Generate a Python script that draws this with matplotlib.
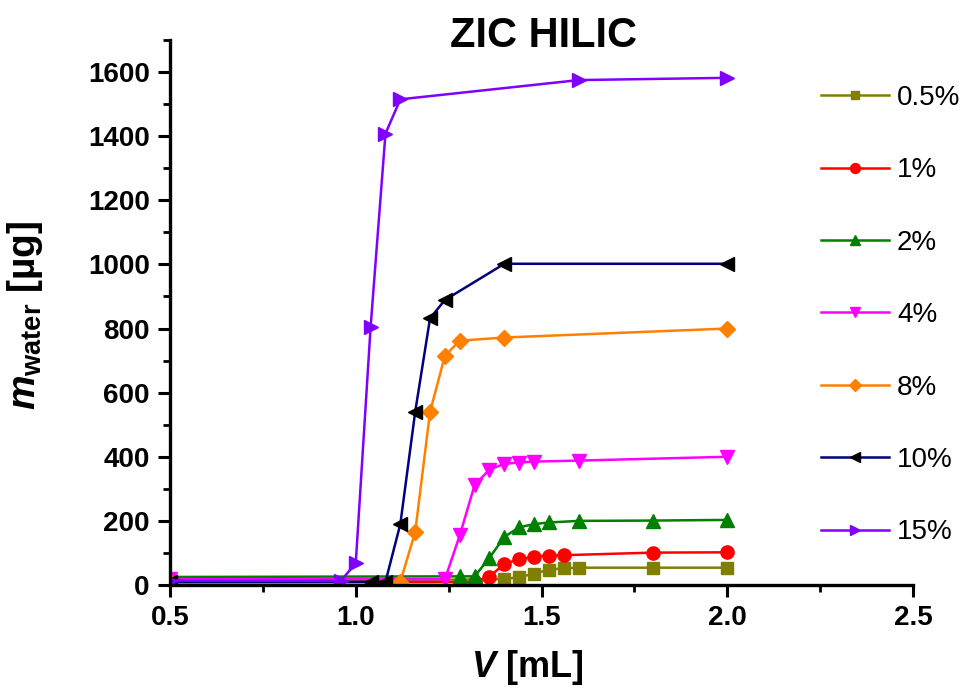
import matplotlib
matplotlib.use("Agg")
import matplotlib.pyplot as plt
from matplotlib.ticker import MultipleLocator

plt.rcParams['font.family'] = ['Liberation Sans', 'DejaVu Sans']
plt.rcParams['mathtext.fontset'] = 'custom'
plt.rcParams['mathtext.it'] = 'Liberation Sans:italic:bold'
plt.rcParams['mathtext.rm'] = 'Liberation Sans:bold'
plt.rcParams['mathtext.bf'] = 'Liberation Sans:bold'

# ---- data ----
labels = ['0.5%', '1%', '2%', '4%', '8%', '10%', '15%']

x_05 = [0.50, 1.40, 1.44, 1.48, 1.52, 1.56, 1.60, 1.80, 2.00]
y_05 = [10, 18, 25, 35, 48, 52, 54, 54, 54]

x_1 = [0.50, 1.32, 1.36, 1.40, 1.44, 1.48, 1.52, 1.56, 1.80, 2.00]
y_1 = [8, 9, 26, 66, 80, 88, 92, 93, 101, 102]

x_2 = [0.50, 1.28, 1.32, 1.36, 1.40, 1.44, 1.48, 1.52, 1.60, 1.80, 2.00]
y_2 = [25, 27, 27, 85, 150, 180, 190, 195, 200, 201, 203]

x_4 = [0.50, 1.24, 1.28, 1.32, 1.36, 1.40, 1.44, 1.48, 1.60, 2.00]
y_4 = [18, 18, 155, 312, 360, 378, 382, 385, 388, 400]

x_8 = [0.50, 1.12, 1.16, 1.20, 1.24, 1.28, 1.40, 2.00]
y_8 = [10, 10, 165, 540, 715, 762, 772, 800]

x_10 = [0.50, 1.04, 1.08, 1.12, 1.16, 1.20, 1.24, 1.40, 2.00]
y_10 = [10, 10, 10, 190, 540, 832, 889, 1002, 1002]

x_15 = [0.50, 0.96, 1.00, 1.04, 1.08, 1.12, 1.60, 2.00]
y_15 = [14, 13, 68, 805, 1408, 1515, 1575, 1582]

xs = [x_05, x_1, x_2, x_4, x_8, x_10, x_15]
ys = [y_05, y_1, y_2, y_4, y_8, y_10, y_15]
line_colors = ['#808000', '#FF0000', '#008000', '#FF00FF', '#FF8000', '#000080', '#8000FF']
marker_colors = ['#808000', '#FF0000', '#008000', '#FF00FF', '#FF8000', '#000000', '#8000FF']
markers = ['s', 'o', '^', 'v', 'D', '<', '>']
msizes = [8, 9.5, 9.5, 9.5, 8, 9.5, 9.5]

fig = plt.figure(figsize=(9.61, 6.88), dpi=100)
ax = fig.add_axes([170/961, 1-585/688, 743/961, 545/688])

for x, y, lc, mc, m, ms, lab in zip(xs, ys, line_colors, marker_colors, markers, msizes, labels):
    ax.plot(x, y, color=lc, lw=1.8, marker=m, ms=ms, mfc=mc, mec=mc, label=lab)

ax.set_xlim(0.5, 2.5)
ax.set_ylim(0, 1700)
ax.xaxis.set_minor_locator(MultipleLocator(0.25))
ax.yaxis.set_minor_locator(MultipleLocator(100))
ax.set_xticks([0.5, 1.0, 1.5, 2.0, 2.5])
ax.set_xticklabels(['0.5', '1.0', '1.5', '2.0', '2.5'])
ax.set_yticks([0, 200, 400, 600, 800, 1000, 1200, 1400, 1600])

for s in ['top', 'right']:
    ax.spines[s].set_visible(False)
for s in ['left', 'bottom']:
    ax.spines[s].set_linewidth(2.4)

ax.tick_params(which='major', direction='out', length=8.5, width=2.2, pad=6,
               labelsize=20)
ax.tick_params(which='minor', direction='out', length=5, width=2.0)
for t in ax.get_xticklabels() + ax.get_yticklabels():
    t.set_fontweight('bold')

ax.set_ylabel(r'$m_{\mathrm{water}}$ [µg]', fontsize=28, fontweight='bold')
ax.yaxis.set_label_coords((45-170)/743, (585-315)/545)
ax.set_xlabel(r'$V$ [mL]', fontsize=26, fontweight='bold')
ax.xaxis.set_label_coords((527-170)/743, (585-648)/545)

fig.text(543/961, 1-47/688, 'ZIC HILIC', ha='center', va='baseline',
         fontsize=30, fontweight='bold')

leg = ax.legend(loc='upper left', bbox_to_anchor=(821/961, 1-85/688),
                bbox_transform=fig.transFigure, frameon=False, fontsize=20,
                handlelength=2.45, handletextpad=0.29, labelspacing=1.67,
                markerscale=0.75, borderpad=0, borderaxespad=0)

fig.savefig('out.png', dpi=100)
